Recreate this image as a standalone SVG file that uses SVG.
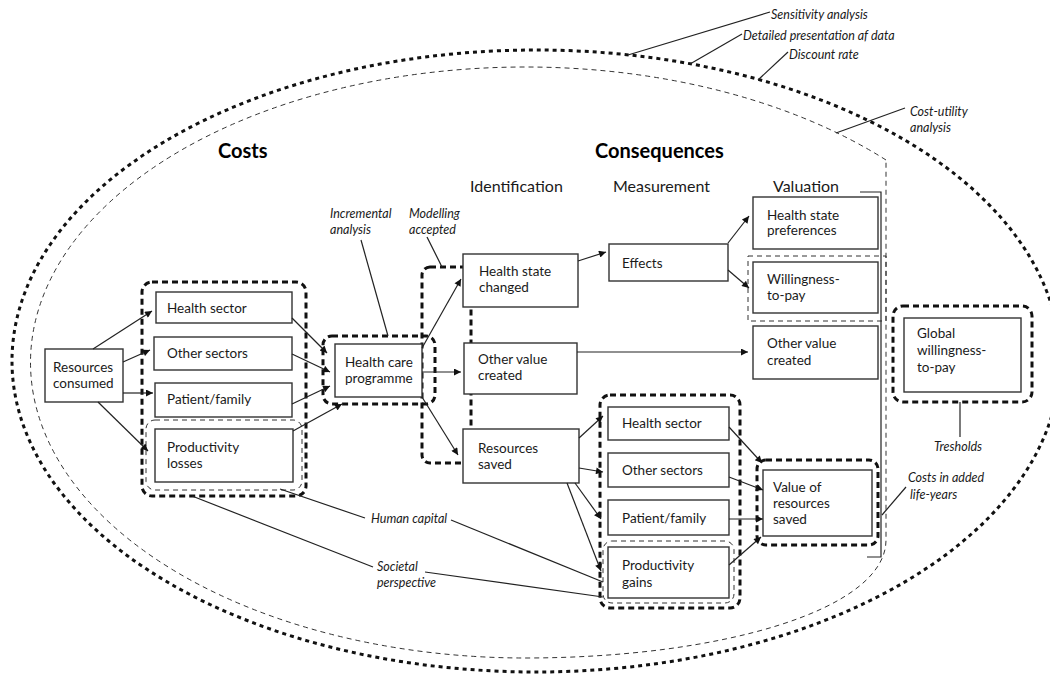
<svg xmlns="http://www.w3.org/2000/svg" width="1050" height="676" viewBox="0 0 1050 676">
<defs>
<marker id="ah" viewBox="0 0 10 10" refX="10" refY="5" markerWidth="10" markerHeight="7" markerUnits="userSpaceOnUse" orient="auto"><path d="M0,0 L10,5 L0,10 z" fill="#111"/></marker>
</defs>
<style>
text{font-family:Lato,"Liberation Sans",sans-serif;fill:#1a1a1a}
.t{font-size:13.5px}
.i{font-size:12.5px;font-style:italic}
.h{font-size:20px;font-weight:bold;fill:#000}
.c{font-size:16px}
.box{fill:#fff;stroke:#333;stroke-width:1.4}
.grp{fill:none;stroke:#111;stroke-width:3;stroke-dasharray:6 4}
.thin{fill:none;stroke:#333;stroke-width:1;stroke-dasharray:5 4}
.outer{fill:none;stroke:#111;stroke-width:3;stroke-dasharray:4 4}
.ln{fill:none;stroke:#222;stroke-width:1.2}
.ar{fill:none;stroke:#222;stroke-width:1.2;marker-end:url(#ah)}
</style>
<rect width="1050" height="676" fill="#fff"/>

<g id="boundaries">
<ellipse class="outer" cx="536" cy="361" rx="524" ry="311"/>
<path class="thin" d="M886,160 A495,295.5 0 1 0 525,658 C720,658 886,610 886,540 L886,160"/>
<rect class="thin" x="748" y="256" width="138" height="65"/>
<path class="ln" d="M860,192 L881,192 L881,557 L867,557"/>
</g>

<g id="headings">
<text class="h" x="218" y="158">Costs</text>
<text class="h" x="595" y="158">Consequences</text>
<text class="c" x="470" y="192">Identification</text>
<text class="c" x="613" y="192">Measurement</text>
<text class="c" x="773" y="192">Valuation</text>
</g>

<g id="groups">
<rect id="costs-group" class="grp" x="142" y="282" width="164" height="214" rx="10"/>
<rect id="losses-group" class="thin" x="146" y="420" width="156" height="70" rx="9"/>
<rect id="hcp-group" class="grp" x="323" y="336" width="112" height="68" rx="9"/>
<rect id="modelling-group" class="grp" x="422" y="267" width="49" height="196" rx="8"/>
<rect id="measurement-group" class="grp" x="600" y="395" width="140" height="213" rx="10"/>
<rect id="gains-group" class="thin" x="603" y="541" width="131" height="62" rx="9"/>
<rect id="value-group" class="grp" x="757" y="460" width="121" height="85" rx="9"/>
<rect id="global-group" class="grp" x="893" y="306" width="139" height="96" rx="10"/>
</g>

<g id="resources-consumed"><rect class="box" x="45" y="349" width="78" height="53"/><text class="t" x="53" y="372">Resources</text><text class="t" x="53" y="388">consumed</text></g>
<g id="cost-health-sector"><rect class="box" x="156" y="292" width="136" height="31"/><text class="t" x="167" y="313">Health sector</text></g>
<g id="cost-other-sectors"><rect class="box" x="154" y="337" width="138" height="33"/><text class="t" x="167" y="358">Other sectors</text></g>
<g id="cost-patient-family"><rect class="box" x="155" y="383" width="137" height="34"/><text class="t" x="167" y="404">Patient/family</text></g>
<g id="productivity-losses"><rect class="box" x="155" y="429" width="138" height="53"/><text class="t" x="167" y="452">Productivity</text><text class="t" x="167" y="468">losses</text></g>
<g id="health-care-programme"><rect class="box" x="335" y="344" width="87" height="53"/><text class="t" x="345" y="367">Health care</text><text class="t" x="345" y="383">programme</text></g>
<g id="health-state-changed"><rect class="box" x="463" y="254" width="115" height="53"/><text class="t" x="479" y="276">Health state</text><text class="t" x="479" y="292">changed</text></g>
<g id="other-value-created-id"><rect class="box" x="464" y="343" width="113" height="51"/><text class="t" x="478" y="364">Other value</text><text class="t" x="478" y="380">created</text></g>
<g id="resources-saved"><rect class="box" x="463" y="429" width="116" height="54"/><text class="t" x="478" y="453">Resources</text><text class="t" x="478" y="469">saved</text></g>
<g id="effects"><rect class="box" x="609" y="244" width="119" height="37"/><text class="t" x="622" y="268">Effects</text></g>
<g id="health-state-preferences"><rect class="box" x="753" y="197" width="125" height="52"/><text class="t" x="767" y="220">Health state</text><text class="t" x="767" y="235">preferences</text></g>
<g id="willingness-to-pay"><rect class="box" x="753" y="262" width="125" height="51"/><text class="t" x="767" y="284">Willingness-</text><text class="t" x="767" y="300">to-pay</text></g>
<g id="other-value-created-val"><rect class="box" x="753" y="326" width="125" height="53"/><text class="t" x="767" y="348">Other value</text><text class="t" x="767" y="365">created</text></g>
<g id="meas-health-sector"><rect class="box" x="608" y="407" width="121" height="33"/><text class="t" x="622" y="428">Health sector</text></g>
<g id="meas-other-sectors"><rect class="box" x="608" y="453" width="121" height="34"/><text class="t" x="622" y="475">Other sectors</text></g>
<g id="meas-patient-family"><rect class="box" x="608" y="500" width="121" height="35"/><text class="t" x="622" y="523">Patient/family</text></g>
<g id="productivity-gains"><rect class="box" x="608" y="547" width="121" height="51"/><text class="t" x="622" y="570">Productivity</text><text class="t" x="622" y="587">gains</text></g>
<g id="value-resources-saved"><rect class="box" x="763" y="470" width="109" height="66"/><text class="t" x="773" y="492">Value of</text><text class="t" x="773" y="508">resources</text><text class="t" x="773" y="524">saved</text></g>
<g id="global-willingness"><rect class="box" x="904" y="318" width="117" height="74"/><text class="t" x="917" y="338">Global</text><text class="t" x="917" y="355">willingness-</text><text class="t" x="917" y="372">to-pay</text></g>

<g id="annotations">
<text class="i" x="771" y="19">Sensitivity analysis</text>
<text class="i" x="743" y="40">Detailed presentation af data</text>
<text class="i" x="789" y="59">Discount rate</text>
<text class="i" x="910" y="116">Cost-utility</text>
<text class="i" x="910" y="132">analysis</text>
<text class="i" x="330" y="218">Incremental</text>
<text class="i" x="330" y="234">analysis</text>
<text class="i" x="409" y="218">Modelling</text>
<text class="i" x="409" y="234">accepted</text>
<text class="i" x="371" y="523">Human capital</text>
<text class="i" x="377" y="571">Societal</text>
<text class="i" x="377" y="587">perspective</text>
<text class="i" x="958" y="451" text-anchor="middle">Tresholds</text>
<text class="i" x="908" y="482">Costs in added</text>
<text class="i" x="910" y="499">life-years</text>
</g>

<g id="connectors">
<path class="ln" d="M628,55 L770,12"/>
<path class="ln" d="M690,64 L742,34"/>
<path class="ln" d="M758,80 L788,52"/>
<path class="ln" d="M836,133 L905,108"/>
<path class="ln" d="M361,240 L388,336"/>
<path class="ln" d="M427,237 L442,267"/>
<path class="ln" d="M280,489 L365,518"/>
<path class="ln" d="M451,520 L603,582"/>
<path class="ln" d="M192,496 L373,567"/>
<path class="ln" d="M425,572 L603,597"/>
<path class="ln" d="M960,402 L960,437"/>
<path class="ln" d="M882,515 L906,487"/>

<path class="ar" d="M93,349 L152,311"/>
<path class="ar" d="M123,362 L150,350"/>
<path class="ar" d="M123,393 L153,393"/>
<path class="ar" d="M98,402 L148,451"/>
<path class="ar" d="M292,318 L327,353"/>
<path class="ar" d="M292,354 L330,372"/>
<path class="ar" d="M292,404 L330,386"/>
<path class="ar" d="M293,431 L342,404"/>
<path class="ar" d="M422,348 L461,279"/>
<path class="ar" d="M422,372 L461,372"/>
<path class="ar" d="M422,397 L458,455"/>
<path class="ar" d="M578,261 L606,252"/>
<path class="ar" d="M577,352 L748,352"/>
<path class="ar" d="M728,243 L749,216"/>
<path class="ar" d="M728,270 L749,288"/>
<path class="ar" d="M579,438 L603,416"/>
<path class="ar" d="M579,468 L603,472"/>
<path class="ar" d="M575,483 L601,519"/>
<path class="ar" d="M567,483 L601,571"/>
<path class="ar" d="M729,427 L762,463"/>
<path class="ar" d="M729,477 L763,490"/>
<path class="ar" d="M729,519 L763,519"/>
<path class="ar" d="M729,565 L761,537"/>
</g>
</svg>
